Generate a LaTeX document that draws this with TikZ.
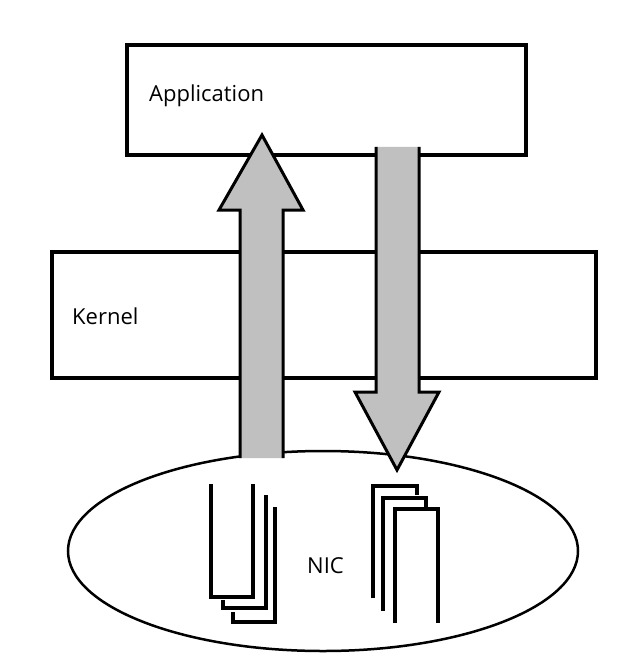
\documentclass[tikz,border=0pt]{standalone}
\usepackage{fontspec}
\setmainfont{Open Sans}
\usetikzlibrary{shapes.geometric}
\definecolor{arrowgray}{RGB}{192,192,192}
\tikzset{
  layerbox/.style={draw=black, line width=4pt, fill=white, rectangle, inner sep=0pt},
  lbl/.style={anchor=base west, inner sep=0pt, font=\fontsize{22}{25}\selectfont},
  docline/.style={draw=black, line width=4pt},
  bigarrow/.style={draw=black, line width=3pt, line join=miter},
}
\begin{document}
\begin{tikzpicture}[x=1pt,y=-1pt]
\useasboundingbox (0,0) rectangle (641,668);
% boxes
\node[layerbox, minimum width=399pt, minimum height=110pt] (app) at (326.5,100) {};
\node[layerbox, minimum width=544pt, minimum height=126pt] (kernel) at (324,315) {};
\node[draw=black, line width=2.5pt, ellipse, minimum width=510pt, minimum height=200pt, inner sep=0pt] (nic) at (323,551) {};
% labels
\node[lbl] (applbl) at (149,102) {Application};
\node[lbl] (kernlbl) at (72,324) {Kernel};
\node[lbl] (niclbl) at (307,573) {NIC};
% left documents (open top)
\draw[docline] (233,612) -- (233,622) -- (275,622) -- (275,507);
\draw[docline] (223,600) -- (223,608) -- (266,608) -- (266,495);
\draw[docline] (211,484) -- (211,597) -- (253,597) -- (253,484);
% right documents (open bottom)
\draw[docline] (373,598) -- (373,486) -- (417,486) -- (417,495);
\draw[docline] (383,611) -- (383,498) -- (426,498) -- (426,507);
\draw[docline] (395,623) -- (395,509) -- (438,509) -- (438,623);
% up arrow
\fill[arrowgray] (240,458) -- (240,210) -- (219,210) -- (262,135) -- (303,210) -- (283,210) -- (283,458) -- cycle;
\draw[bigarrow] (240,458) -- (240,210) -- (219,210) -- (262,135) -- (303,210) -- (283,210) -- (283,458);
% down arrow
\fill[arrowgray] (376,147) -- (376,392) -- (355,392) -- (397,470) -- (439,392) -- (419,392) -- (419,147) -- cycle;
\draw[bigarrow] (376,147) -- (376,392) -- (355,392) -- (397,470) -- (439,392) -- (419,392) -- (419,147);
\end{tikzpicture}
\end{document}
